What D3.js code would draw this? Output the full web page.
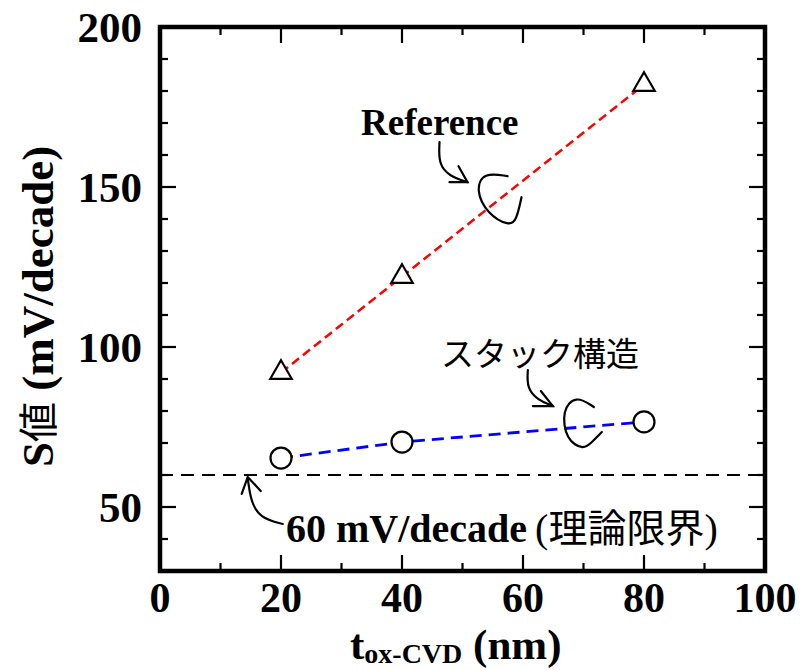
<!DOCTYPE html>
<html><head><meta charset="utf-8">
<script src="https://cdn.jsdelivr.net/npm/d3@7"></script>
<style>body{margin:0;background:#fff}svg{display:block}</style>
</head><body>
<script>
// ---- data ----
const refX = [20, 40, 80];
const refY = [92, 122, 182];
const stackX = [20, 40, 80];
const stackY = [65.3, 70.3, 76.6];
const limitValue = 60;
const xTicks = [0, 20, 40, 60, 80, 100];
const yTicks = [50, 100, 150, 200];

const W = 802, H = 670;
const svg = d3.select("body").append("svg").attr("width", W).attr("height", H);
const x = d3.scaleLinear().domain([0, 100]).range([160, 765]);
const y = d3.scaleLinear().domain([30, 200]).range([571, 27]);
const serif = "'Liberation Serif','Times New Roman',serif";
const cjk = "'Noto Sans CJK JP',sans-serif";

// ticks (inside, all four sides)
const minorX = d3.range(10, 100, 20);
const minorY = d3.range(40, 200, 10).filter(v => v % 50 !== 0);
const g = svg.append("g");
function tickSet(vals, len, w) {
  vals.forEach(v => {
    g.append("line").attr("x1", x(v)).attr("x2", x(v)).attr("y1", y(30)).attr("y2", y(30) - len).attr("stroke", "#000").attr("stroke-width", w);
    g.append("line").attr("x1", x(v)).attr("x2", x(v)).attr("y1", y(200)).attr("y2", y(200) + len).attr("stroke", "#000").attr("stroke-width", w);
  });
}
tickSet(xTicks.slice(1, -1), 16, 2.2);
tickSet(minorX, 8, 2.2);
function tickSetY(vals, len, w) {
  vals.forEach(v => {
    g.append("line").attr("y1", y(v)).attr("y2", y(v)).attr("x1", x(0)).attr("x2", x(0) + len).attr("stroke", "#000").attr("stroke-width", w);
    g.append("line").attr("y1", y(v)).attr("y2", y(v)).attr("x1", x(100)).attr("x2", x(100) - len).attr("stroke", "#000").attr("stroke-width", w);
  });
}
tickSetY(yTicks.filter(v => v < 200), 16, 2.2);
tickSetY(minorY, 8, 2.2);

// frame
g.append("rect").attr("x", x(0)).attr("y", y(200)).attr("width", x(100) - x(0)).attr("height", y(30) - y(200))
  .attr("fill", "none").attr("stroke", "#000").attr("stroke-width", 4.5);

// tick labels
svg.selectAll(".xl").data(xTicks).enter().append("text")
  .attr("x", d => x(d)).attr("y", 612).attr("text-anchor", "middle")
  .attr("font-family", serif).attr("font-weight", "bold").attr("font-size", 42).text(d => d);
svg.selectAll(".yl").data(yTicks).enter().append("text")
  .attr("x", 142).attr("y", d => y(d) + 15).attr("text-anchor", "end")
  .attr("font-family", serif).attr("font-weight", "bold").attr("font-size", 43).text(d => d);

// axis titles
const xt = svg.append("text").attr("x", 350).attr("y", 659).attr("font-family", serif).attr("font-weight", "bold").attr("font-size", 43);
xt.append("tspan").text("t");
xt.append("tspan").attr("font-size", 28).attr("dy", 4).text("ox-CVD");
xt.append("tspan").attr("dy", -4).text(" (nm)");

const yt = svg.append("text").attr("transform", "translate(53,467) rotate(-90)")
  .attr("font-family", serif).attr("font-weight", "bold").attr("font-size", 45);
yt.append("tspan").text("S");
yt.append("tspan").attr("font-family", cjk).attr("font-weight", "normal").attr("font-size", 40).text("値");
yt.append("tspan").text(" (mV/decade)");

// limit line
svg.append("line").attr("x1", x(0)).attr("x2", x(100)).attr("y1", y(limitValue)).attr("y2", y(limitValue))
  .attr("stroke", "#000").attr("stroke-width", 2.2).attr("stroke-dasharray", "13,8");

// series lines
const line = d3.line().x(d => x(d[0])).y(d => y(d[1]));
svg.append("path").datum(d3.zip(refX, refY)).attr("d", line).attr("fill", "none")
  .attr("stroke", "#ff0000").attr("stroke-width", 2.5).attr("stroke-dasharray", "9,5");
svg.append("path").datum(d3.zip(stackX, stackY)).attr("d", line).attr("fill", "none")
  .attr("stroke", "#0000ff").attr("stroke-width", 2.8).attr("stroke-dasharray", "12,7");

// markers
svg.selectAll(".tri").data(d3.zip(refX, refY)).enter().append("path")
  .attr("d", d3.symbol().type(d3.symbolTriangle).size(200))
  .attr("transform", d => `translate(${x(d[0])},${y(d[1])})`)
  .attr("fill", "#fff").attr("stroke", "#000").attr("stroke-width", 2.2);
svg.selectAll(".cir").data(d3.zip(stackX, stackY)).enter().append("circle")
  .attr("cx", d => x(d[0])).attr("cy", d => y(d[1])).attr("r", 10.5)
  .attr("fill", "#fff").attr("stroke", "#000").attr("stroke-width", 2.2);

// annotations
svg.append("text").attr("x", 361).attr("y", 135).attr("font-family", serif).attr("font-weight", "bold").attr("font-size", 37).text("Reference");
svg.append("text").attr("x", 441).attr("y", 366).attr("font-family", cjk).attr("font-size", 33).text("スタック構造");
const lt = svg.append("text").attr("x", 286).attr("y", 542).attr("font-family", serif).attr("font-size", 40);
lt.append("tspan").attr("font-weight", "bold").text("60 mV/decade");
lt.append("tspan").attr("dx", 8).text("(");
lt.append("tspan").attr("font-family", cjk).attr("font-size", 39).text("理論限界");
lt.append("tspan").text(")");

const ann = svg.append("g").attr("fill", "none").attr("stroke", "#000").attr("stroke-width", 2.2).attr("stroke-linecap", "round");
const crv = d3.line().curve(d3.curveBasis);
// Reference arrow + curl (anchored to data coords)
const r0 = [x(46.2), y(164)];
ann.append("path").attr("d", crv([[r0[0], r0[1]], [r0[0] - 1, r0[1] + 22], [r0[0] + 10, r0[1] + 34], [r0[0] + 28, r0[1] + 40]]));
ann.append("path").attr("d", `M${r0[0]+10},${r0[1]+40}L${r0[0]+28},${r0[1]+40}L${r0[0]+19},${r0[1]+24}`);
ann.append("path").attr("d", crv([[r0[0]+68, r0[1]+34], [r0[0]+44, r0[1]+30], [r0[0]+36, r0[1]+48], [r0[0]+48, r0[1]+72], [r0[0]+70, r0[1]+84], [r0[0]+77, r0[1]+78], [r0[0]+82, r0[1]+55]]));
// Stack arrow + curl
const s0 = [x(60.8), y(92.8)];
ann.append("path").attr("d", crv([[s0[0], s0[1]], [s0[0] - 1, s0[1] + 18], [s0[0] + 10, s0[1] + 30], [s0[0] + 25, s0[1] + 36]]));
ann.append("path").attr("d", `M${s0[0]+5},${s0[1]+36}L${s0[0]+25},${s0[1]+36}L${s0[0]+13},${s0[1]+21}`);
ann.append("path").attr("d", crv([[s0[0]+66, s0[1]+37], [s0[0]+48, s0[1]+25], [s0[0]+34, s0[1]+40], [s0[0]+38, s0[1]+70], [s0[0]+56, s0[1]+80], [s0[0]+64, s0[1]+72], [s0[0]+74, s0[1]+62]]));
// limit arrow
const l0 = [x(14.5), y(59.7)];
ann.append("path").attr("d", crv([[l0[0], l0[1]+2], [l0[0]+3, l0[1]+25], [l0[0]+12, l0[1]+42], [l0[0]+35, l0[1]+48]]));
ann.append("path").attr("d", `M${l0[0]-6},${l0[1]+18}L${l0[0]},${l0[1]+1}L${l0[0]+13},${l0[1]+15}`);
</script>
</body></html>
